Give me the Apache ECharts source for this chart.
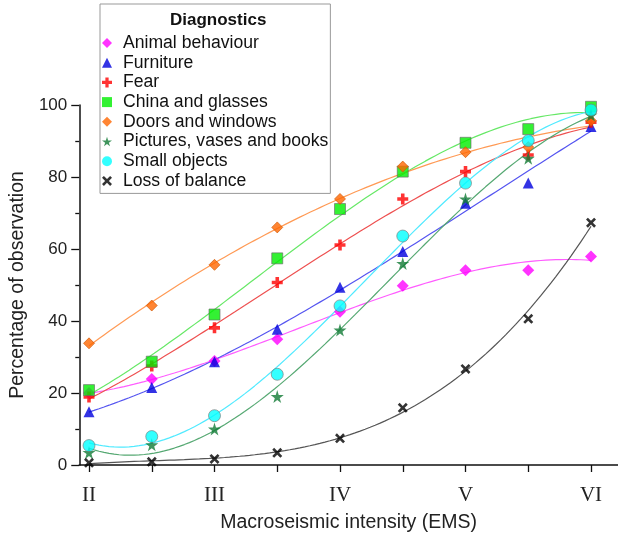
<!DOCTYPE html>
<html>
<head>
<meta charset="utf-8">
<script src="https://cdn.jsdelivr.net/npm/echarts@6/dist/echarts.min.js"></script>
<style>
html,body{margin:0;padding:0;background:#fff;}
#chart{width:618px;height:542px;}
</style>
</head>
<body>
<div id="chart"></div>
<script>
// ---- data ----
const intensity = [2, 2.5, 3, 3.5, 4, 4.5, 5, 5.5, 6];
const romanTicks = {2: 'II', 3: 'III', 4: 'IV', 5: 'V', 6: 'VI'};
const seriesNames = ['Animal behaviour', 'Furniture', 'Fear', 'China and glasses',
  'Doors and windows', 'Pictures, vases and books', 'Small objects', 'Loss of balance'];
const animal   = [20.0, 23.9, 28.9, 34.9, 42.6, 49.8, 54.1, 54.1, 57.9];
const furniture= [14.8, 21.5, 28.7, 37.7, 49.4, 59.3, 72.7, 78.3, 94.0];
const fear     = [18.9, 27.5, 38.1, 50.7, 61.1, 73.9, 81.5, 86.1, 95.2];
const china    = [20.8, 28.7, 41.8, 57.4, 71.1, 81.5, 89.5, 93.3, 99.5];
const doors    = [33.8, 44.3, 55.6, 66.0, 73.9, 82.9, 86.9, 88.3, 95.6];
const pictures = [3.5, 5.6, 10.0, 19.0, 37.5, 56.0, 73.9, 85.2, 97.2];
const small    = [5.4, 7.9, 13.7, 25.2, 44.2, 63.6, 78.3, 90.1, 98.6];
const loss     = [0.6, 0.9, 1.7, 3.4, 7.4, 15.9, 26.7, 40.6, 67.3];
const allValues = [animal, furniture, fear, china, doors, pictures, small, loss];

// ---- styles ----
const markerColors = ['#ff00ff', '#0000dd', '#ff0000', '#00ee00', '#ff6600', '#107a35', '#00ffff', '#000000'];
const lineColors   = ['#ff5cff', '#5555f0', '#ee5050', '#66e866', '#ff9a55', '#55a872', '#50eaff', '#555555'];
const borderColors = [null, null, null, '#6a6a6a', '#cc5500', null, '#777777', null];
const PLUS = 'path://M2.7,0H5.3V2.7H8V5.3H5.3V8H2.7V5.3H0V2.7H2.7Z';
const CROSS = 'path://M1.5,0L4,2.5L6.5,0L8,1.5L5.5,4L8,6.5L6.5,8L4,5.5L1.5,8L0,6.5L2.5,4L0,1.5Z';
const STAR = 'path://M50,0L61,35H98L68,57L79,91L50,70L21,91L32,57L2,35H39Z';
const symbols = ['diamond', 'triangle', PLUS, 'rect', 'diamond', STAR, 'circle', CROSS];
const sizes = [12, 11, 11, 11, 11, 13, 12, 10];

// cubic least-squares trend line computed from the data
function cubicFit(xs, ys) {
  const n = 4, c = 4;
  const A = [], b = [];
  for (let i = 0; i < n; i++) {
    A.push(new Array(n).fill(0)); b.push(0);
  }
  xs.forEach((x0, k) => {
    const t = x0 - c;
    for (let i = 0; i < n; i++) {
      for (let j = 0; j < n; j++) A[i][j] += Math.pow(t, i + j);
      b[i] += Math.pow(t, i) * ys[k];
    }
  });
  for (let i = 0; i < n; i++) {
    let p = i;
    for (let r = i + 1; r < n; r++) if (Math.abs(A[r][i]) > Math.abs(A[p][i])) p = r;
    [A[i], A[p]] = [A[p], A[i]]; [b[i], b[p]] = [b[p], b[i]];
    for (let r = i + 1; r < n; r++) {
      const f = A[r][i] / A[i][i];
      for (let j = i; j < n; j++) A[r][j] -= f * A[i][j];
      b[r] -= f * b[i];
    }
  }
  const coef = new Array(n).fill(0);
  for (let i = n - 1; i >= 0; i--) {
    let s = b[i];
    for (let j = i + 1; j < n; j++) s -= A[i][j] * coef[j];
    coef[i] = s / A[i][i];
  }
  const out = [];
  const x0 = xs[0], x1 = xs[xs.length - 1];
  for (let k = 0; k <= 100; k++) {
    const x = x0 + (x1 - x0) * k / 100;
    const t = x - c;
    out.push([x, coef[0] + coef[1] * t + coef[2] * t * t + coef[3] * t * t * t]);
  }
  return out;
}

const series = [];
allValues.forEach((vals, i) => {
  series.push({
    name: 'fit-' + i, type: 'line', xAxisIndex: 0, yAxisIndex: 0,
    data: cubicFit(intensity, vals), showSymbol: false, symbol: 'none',
    lineStyle: {color: lineColors[i], width: 1.2}, z: 2, silent: true
  });
});
allValues.forEach((vals, i) => {
  series.push({
    name: seriesNames[i], type: 'scatter', xAxisIndex: 0, yAxisIndex: 0,
    data: intensity.map((x, k) => [x, vals[k]]),
    symbol: symbols[i], symbolSize: sizes[i],
    itemStyle: {
      color: markerColors[i],
      borderColor: borderColors[i] || markerColors[i],
      borderWidth: borderColors[i] ? 0.8 : 0
    },
    z: 3
  });
});

const sans = 'Liberation Sans, Arial, sans-serif';
const chart = echarts.init(document.getElementById('chart'), null, {renderer: 'canvas'});
chart.setOption({
  backgroundColor: '#ffffff',
  animation: false,
  title: {
    text: 'Diagnostics', left: 165, top: 7,
    textStyle: {fontFamily: sans, fontSize: 17, fontWeight: 'bold', color: '#111'}
  },
  legend: {
    data: seriesNames, orient: 'vertical', left: 100, top: 4,
    padding: [30, 2, 3.5, 2], itemGap: 1.7, itemWidth: 10, itemHeight: 10,
    borderColor: '#999', borderWidth: 1, backgroundColor: '#fff',
    itemStyle: {borderWidth: 0},
    textStyle: {fontFamily: sans, fontSize: 17.6, color: '#111', lineHeight: 18, padding: [0, 0, 0, 6]}
  },
  grid: [
    {left: 89, right: 27, top: 105, bottom: 77},
    {left: 75, right: 0, top: 105, bottom: 77}
  ],
  xAxis: [
    {
      type: 'value', gridIndex: 0, min: 2, max: 6, interval: 0.5,
      axisLine: {show: false},
      axisTick: {show: true, length: 7, lineStyle: {color: '#111', width: 1.3}},
      axisLabel: {
        margin: 20, formatter: v => romanTicks[v] || '',
        fontFamily: 'Liberation Serif, Times New Roman, serif', fontSize: 21, color: '#222'
      },
      splitLine: {show: false}
    },
    {
      type: 'value', gridIndex: 1, min: 0, max: 1, position: 'bottom',
      axisLine: {show: true, lineStyle: {color: '#111', width: 1.5}},
      axisTick: {show: false}, axisLabel: {show: false}, splitLine: {show: false},
      name: 'Macroseismic intensity (EMS)', nameLocation: 'middle', nameGap: 48,
      nameTextStyle: {fontFamily: sans, fontSize: 19.5, color: '#222'}
    }
  ],
  yAxis: [
    {type: 'value', gridIndex: 0, min: 0, max: 100, show: false},
    {
      type: 'value', gridIndex: 1, min: 0, max: 100, interval: 20,
      axisLine: {show: true, lineStyle: {color: '#111', width: 1.5}},
      axisTick: {show: true, length: 8, lineStyle: {color: '#111', width: 1.3}},
      minorTick: {show: true, splitNumber: 2, length: 4, lineStyle: {color: '#111', width: 1.3}},
      axisLabel: {margin: 12, fontFamily: sans, fontSize: 17, color: '#222'},
      splitLine: {show: false},
      name: 'Percentage of observation', nameLocation: 'middle', nameGap: 36,
      nameTextStyle: {fontFamily: sans, fontSize: 19.5, color: '#222'}
    }
  ],
  series: series
});
</script>
</body>
</html>
